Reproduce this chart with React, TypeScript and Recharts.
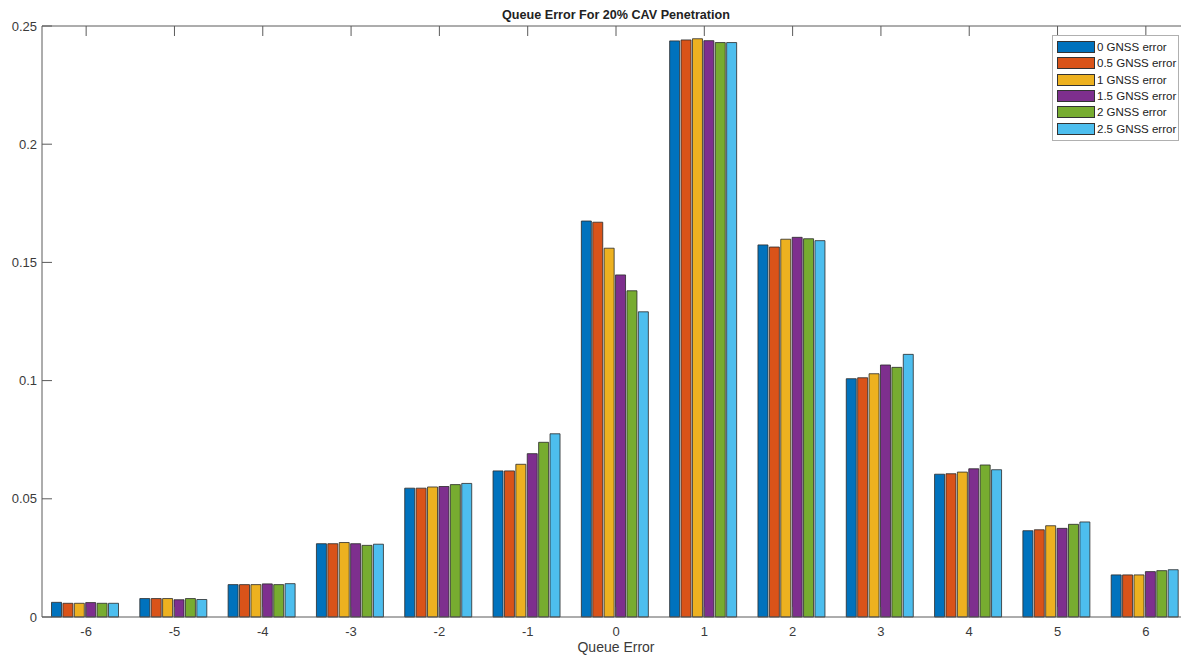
import React from 'react';
import { BarChart, Bar, XAxis, YAxis, Legend } from 'recharts';

const categories = ['-6', '-5', '-4', '-3', '-2', '-1', '0', '1', '2', '3', '4', '5', '6'];
const gnss0 = [0.0062, 0.0078, 0.0137, 0.031, 0.0545, 0.0618, 0.1675, 0.2437, 0.1574, 0.1008, 0.0604, 0.0365, 0.0178];
const gnss05 = [0.0058, 0.0078, 0.0137, 0.031, 0.0545, 0.0618, 0.167, 0.2441, 0.1565, 0.1012, 0.0606, 0.0369, 0.0178];
const gnss1 = [0.0058, 0.0078, 0.0137, 0.0315, 0.055, 0.0646, 0.156, 0.2446, 0.1598, 0.1029, 0.0613, 0.0386, 0.0178];
const gnss15 = [0.0061, 0.0073, 0.014, 0.031, 0.0552, 0.0691, 0.1447, 0.2438, 0.1606, 0.1066, 0.0627, 0.0375, 0.0192];
const gnss2 = [0.0058, 0.0078, 0.0137, 0.0303, 0.056, 0.0739, 0.138, 0.243, 0.16, 0.1056, 0.0643, 0.0392, 0.0196];
const gnss25 = [0.0058, 0.0074, 0.0141, 0.0308, 0.0565, 0.0775, 0.1291, 0.243, 0.1592, 0.1111, 0.0623, 0.0402, 0.02];
const seriesNames = ['0 GNSS error', '0.5 GNSS error', '1 GNSS error', '1.5 GNSS error', '2 GNSS error', '2.5 GNSS error'];
const seriesKeys = ['g0', 'g05', 'g1', 'g15', 'g2', 'g25'];
const seriesColors = ['#0072BD', '#D95319', '#EDB120', '#7E2F8E', '#77AC30', '#4DBEEE'];
const yTicks = [0, 0.05, 0.1, 0.15, 0.2, 0.25];
const yTickLabels = ['0', '0.05', '0.1', '0.15', '0.2', '0.25'];

const data = categories.map((c, i) => ({
  cat: c,
  g0: gnss0[i],
  g05: gnss05[i],
  g1: gnss1[i],
  g15: gnss15[i],
  g2: gnss2[i],
  g25: gnss25[i],
}));

const PLOT_LEFT = 42;
const PLOT_TOP = 26;
const PLOT_BOTTOM = 617;
const CHART_W = 1200;
const PLOT_RIGHT = 1190;
const TICK_LEN = 10;
const AXIS_COLOR = '#5a5a5a';
const TEXT_COLOR = '#3a3a3a';
const FONT = '"Liberation Sans", Arial, Helvetica, sans-serif';

const LeftTick = (props: any) => {
  const { y, payload } = props;
  const idx = yTicks.indexOf(payload.value);
  return (
    <g>
      <line x1={PLOT_LEFT} x2={PLOT_LEFT + TICK_LEN} y1={y} y2={y} stroke={AXIS_COLOR} strokeWidth={1} />
      <text x={PLOT_LEFT - 5} y={y} dy={4.5} textAnchor="end" fontSize={13} fill={TEXT_COLOR} fontFamily={FONT}>
        {idx >= 0 ? yTickLabels[idx] : payload.value}
      </text>
    </g>
  );
};

const RightTick = (props: any) => {
  const { y } = props;
  return <line x1={PLOT_RIGHT} x2={PLOT_RIGHT - TICK_LEN} y1={y} y2={y} stroke={AXIS_COLOR} strokeWidth={1} />;
};

const BottomTick = (props: any) => {
  const { x, payload } = props;
  return (
    <g>
      <line x1={x} x2={x} y1={PLOT_BOTTOM} y2={PLOT_BOTTOM - TICK_LEN} stroke={AXIS_COLOR} strokeWidth={1} />
      <text x={x} y={PLOT_BOTTOM + 19} textAnchor="middle" fontSize={13} fill={TEXT_COLOR} fontFamily={FONT}>
        {payload.value}
      </text>
    </g>
  );
};

const TopTick = (props: any) => {
  const { x } = props;
  return <line x1={x} x2={x} y1={PLOT_TOP} y2={PLOT_TOP + TICK_LEN} stroke={AXIS_COLOR} strokeWidth={1} />;
};

const LegendBox = () => (
  <div
    style={{
      border: '1px solid #b0b0b0',
      background: '#fff',
      padding: '3px 0 3px 4px',
      fontFamily: FONT,
      fontSize: 11.5,
      color: '#222',
      width: 121,
      textAlign: 'left',
      overflow: 'hidden',
    }}
  >
    {seriesNames.map((n, i) => (
      <div key={n} style={{ display: 'flex', alignItems: 'center', height: 16.3 }}>
        <div
          style={{
            width: 38,
            height: 12,
            background: seriesColors[i],
            border: '1px solid #333',
            marginRight: 2,
            boxSizing: 'border-box',
            flexShrink: 0,
          }}
        />
        <span style={{ whiteSpace: 'nowrap' }}>{n}</span>
      </div>
    ))}
  </div>
);

export default function App() {
  return (
    <div style={{ position: 'absolute', left: 0, top: 0, width: 1181, height: 657, overflow: 'hidden', background: '#fff' }}>
      <div
        style={{
          position: 'absolute',
          left: 0,
          width: 2 * 616,
          top: 8,
          textAlign: 'center',
          fontFamily: FONT,
          fontWeight: 'bold',
          fontSize: 12.6,
          color: '#222',
        }}
      >
        Queue Error For 20% CAV Penetration
      </div>
      <BarChart
        width={CHART_W}
        height={657}
        data={data}
        margin={{ top: PLOT_TOP - 1, right: CHART_W - PLOT_RIGHT - 1, bottom: 0, left: 8 }}
        barCategoryGap={9.5}
        barGap={1.4}
      >
        <XAxis
          xAxisId="bottom"
          dataKey="cat"
          height={657 - PLOT_BOTTOM}
          stroke={AXIS_COLOR}
          tickLine={false}
          tickSize={0}
          tick={<BottomTick />}
          interval={0}
          label={{ value: 'Queue Error', position: 'insideBottom', offset: 5, fontSize: 14, fill: TEXT_COLOR, fontFamily: FONT }}
        />
        <XAxis
          xAxisId="top"
          dataKey="cat"
          orientation="top"
          height={1}
          stroke={AXIS_COLOR}
          tickLine={false}
          tickSize={0}
          tick={<TopTick />}
          interval={0}
        />
        <YAxis
          yAxisId="left"
          width={PLOT_LEFT - 8}
          domain={[0, 0.25]}
          ticks={yTicks}
          stroke={AXIS_COLOR}
          tickLine={false}
          tickSize={0}
          tick={<LeftTick />}
          interval={0}
        />
        <YAxis
          yAxisId="right"
          orientation="right"
          width={1}
          domain={[0, 0.25]}
          ticks={yTicks}
          stroke={AXIS_COLOR}
          tickLine={false}
          tickSize={0}
          tick={<RightTick />}
          interval={0}
        />
        <Legend
          layout="horizontal"
          verticalAlign="middle"
          align="center"
          content={<LegendBox />}
          wrapperStyle={{ position: 'absolute', left: 1052, top: 35, width: 'auto', height: 'auto' }}
        />
        {seriesKeys.map((k, i) => (
          <Bar
            key={k}
            xAxisId="bottom"
            yAxisId="left"
            dataKey={k}
            name={seriesNames[i]}
            fill={seriesColors[i]}
            stroke="#2a2a2a"
            strokeWidth={0.8}
            isAnimationActive={false}
          />
        ))}
      </BarChart>
    </div>
  );
}
